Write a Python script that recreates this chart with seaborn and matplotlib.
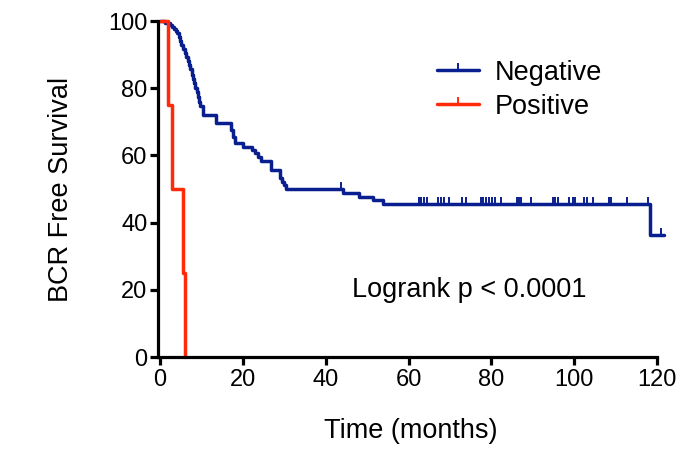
import numpy as np
import pandas as pd
import matplotlib
matplotlib.use('Agg')
import matplotlib.pyplot as plt
import seaborn as sns
from matplotlib.lines import Line2D

# step points (time in months, % BCR free after the drop)
neg_time = [0, 1.2, 2.4, 3.0, 3.4, 3.9, 4.2, 4.5, 4.8, 5.1, 5.5, 5.9, 6.3, 6.7, 7.0,
            7.3, 7.6, 7.9, 8.2, 8.5, 8.8, 9.1, 9.4, 9.7, 10.4, 13.6, 17.2, 17.7, 18.1,
            20.1, 22.3, 22.9, 23.6, 24.3, 26.9, 28.9, 29.4, 30.0, 30.5, 44.2, 48.0,
            51.4, 53.8, 118.2, 121.6]
neg_surv = [100, 99.4, 98.8, 98.2, 97.6, 97.0, 96.4, 95.2, 94.0, 92.8, 91.6, 90.4,
            89.2, 88.0, 86.8, 85.6, 84.0, 82.8, 81.6, 80.2, 78.8, 77.4, 76.0, 74.6,
            72.0, 69.5, 67.6, 65.6, 63.6, 62.6, 61.6, 60.6, 59.6, 58.4, 55.8, 53.2,
            52.0, 51.2, 50.0, 48.8, 47.7, 46.7, 45.5, 36.4, 36.4]
neg_censor = [43.8, 62.5, 63.1, 63.7, 64.4, 67.1, 67.9, 68.5, 69.7, 72.8, 73.9, 77.4,
              78.1, 78.8, 79.5, 80.2, 80.8, 82.3, 86.1, 86.6, 87.2, 89.6, 94.8, 95.4,
              96.0, 98.8, 99.6, 100.2, 102.4, 103.0, 104.6, 108.3, 108.8, 112.8,
              117.9, 121.0]

pos_time = [0, 1.9, 2.8, 5.5, 6.0]
pos_surv = [100, 75, 50, 25, 0]

blue = '#0a1f8f'
red = '#ff2a0a'

sns.set_style('ticks')
plt.rcParams['font.family'] = ['Liberation Sans', 'DejaVu Sans']
plt.rcParams['text.color'] = 'black'
plt.rcParams['axes.labelcolor'] = 'black'
plt.rcParams['xtick.color'] = 'black'
plt.rcParams['ytick.color'] = 'black'

fig = plt.figure(figsize=(6.94, 4.49), dpi=100)
ax = fig.add_axes([158 / 694, 1 - 357 / 449, 499 / 694, 336 / 449])

neg = pd.DataFrame({'t': neg_time, 's': neg_surv})
pos = pd.DataFrame({'t': pos_time, 's': pos_surv})

sns.lineplot(data=neg, x='t', y='s', ax=ax, color=blue, lw=2.5, estimator=None,
             sort=False, drawstyle='steps-post', clip_on=False)
# censor ticks sit on the curve value at that time
idx = np.searchsorted(neg_time, neg_censor, side='right') - 1
cens_y = np.array(neg_surv)[idx]
ax.plot(neg_censor, cens_y, ls='none', marker=2, ms=5, mew=1.4, color=blue, clip_on=False)

sns.lineplot(data=pos, x='t', y='s', ax=ax, color=red, lw=2.5, estimator=None,
             sort=False, drawstyle='steps-post', clip_on=False)

ax.set_xlim(-0.5, 120)
ax.set_ylim(0, 100)
ax.set_xticks(range(0, 121, 20))
ax.set_yticks(range(0, 101, 20))
for s in ['top', 'right']:
    ax.spines[s].set_visible(False)
for s in ['left', 'bottom']:
    ax.spines[s].set_linewidth(2.3)
    ax.spines[s].set_color('black')
ax.tick_params(axis='both', length=6, width=2.3, color='black', labelsize=17,
               labelcolor='black')
ax.tick_params(axis='y', pad=1.5)
ax.tick_params(axis='x', pad=3)

ax.set_xlabel('Time (months)', fontsize=19.5)
ax.set_ylabel('BCR Free Survival', fontsize=19.5)
ax.xaxis.set_label_coords(0.507, -0.182)
ax.yaxis.set_label_coords(-0.168, 0.5)

handles = [Line2D([], [], color=blue, lw=2.5, marker=2, ms=5, mew=1.4),
           Line2D([], [], color=red, lw=2.5, marker=2, ms=5, mew=1.4)]
leg = ax.legend(handles, ['Negative', 'Positive'], loc='center left',
                bbox_to_anchor=(0.559, 0.795), frameon=False, fontsize=19.5,
                handlelength=1.55, handletextpad=0.6, labelspacing=0.3,
                borderpad=0, borderaxespad=0, numpoints=1, labelcolor='black')

ax.text(46.4, 20, 'Logrank p < 0.0001', fontsize=19.5, va='center', ha='left',
        color='black')

fig.savefig('out.png', dpi=100)
